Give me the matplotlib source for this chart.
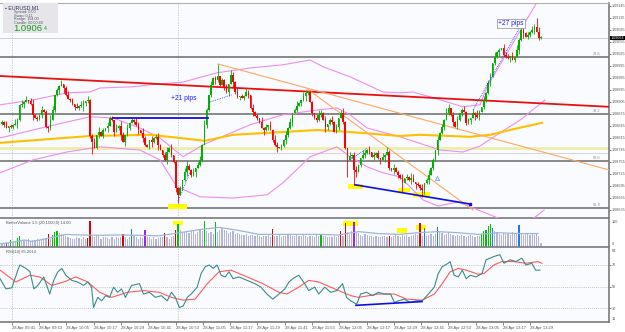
import numpy as np
import matplotlib
matplotlib.use('Agg')
import matplotlib.pyplot as plt
from matplotlib.patches import Rectangle

plt.rcParams['font.family'] = ['Liberation Sans', 'DejaVu Sans']

# ---------------- data (prices in pips above 1.08000) ----------------
close_pips = [85.4, 84.7, 83.9, 84.4, 84.2, 84.7, 84.9, 85.9, 89.7, 89.9,
              90.4, 90.9, 90.7, 89.9, 87.2, 86.4, 86.2, 87.2, 88.4, 87.9,
              84.2, 83.9, 85.9, 88.4, 92.2, 93.4, 94.4, 94.9, 93.9, 92.2,
              91.2, 90.9, 89.9, 89.2, 88.9, 89.4, 89.4, 90.2, 90.7, 90.9,
              81.9, 80.4, 78.9, 82.2, 82.9, 81.9, 83.4, 83.9, 84.4, 86.4,
              85.9, 82.9, 83.9, 84.4, 82.2, 80.4, 82.2, 83.9, 85.2, 85.9,
              85.4, 84.7, 83.4, 82.7, 81.4, 79.7, 79.2, 80.9, 80.4, 81.4,
              81.7, 79.7, 78.4, 77.2, 75.9, 77.9, 78.9, 77.2, 75.4, 68.9,
              67.2, 68.9, 70.9, 72.9, 74.4, 73.4, 72.2, 72.9, 73.9, 74.7,
              75.9, 79.7, 84.7, 88.4, 92.2, 94.7, 96.4, 95.9, 96.9, 94.7,
              95.9, 93.9, 92.9, 94.9, 97.2, 95.4, 92.9, 91.7, 91.9, 91.4,
              91.9, 92.9, 92.2, 88.9, 87.9, 86.9, 86.4, 85.4, 83.9, 83.4,
              84.2, 84.7, 83.4, 80.9, 79.7, 79.2, 78.9, 79.4, 80.9, 82.2,
              83.9, 85.4, 87.7, 88.4, 89.4, 90.2, 90.9, 91.9, 92.7, 92.9,
              90.4, 87.7, 86.4, 85.9, 87.2, 87.7, 85.9, 84.2, 84.9, 85.9,
              85.4, 82.9, 84.2, 86.4, 87.7, 85.4, 78.9, 75.9, 76.9, 77.2,
              73.4, 72.9, 74.7, 76.4, 77.2, 77.7, 78.4, 77.9, 76.7, 77.2,
              77.7, 76.4, 75.9, 76.7, 77.2, 77.9, 73.9, 73.4, 73.9, 72.9,
              72.2, 71.4, 70.2, 71.4, 71.7, 70.9, 71.4, 70.4, 69.9, 69.7,
              68.9, 68.4, 70.2, 70.9, 72.2, 73.9, 75.9, 78.4, 80.9, 82.7,
              84.2, 85.9, 87.7, 88.9, 87.2, 85.4, 84.2, 85.9, 87.7, 88.4,
              87.9, 85.2, 85.9, 86.4, 87.7, 87.2, 86.7, 87.9, 89.2, 90.9,
              92.7, 95.2, 96.7, 100.2, 101.7, 102.9, 103.4, 103.9, 102.2, 101.7,
              101.4, 101.9, 100.9, 101.7, 103.4, 105.9, 108.4, 107.7, 106.7, 107.2,
              107.9, 108.4, 109.2, 107.9, 106.4, 106.4]
first_open_pips = 85.0
wick_up = ("2130214213" "1302412031" "2143021302" "3120314203" "1230412032"
           "2031420312" "1320421031" "2310241302" "1203421302" "3142031240"
           "2130421302" "1320312041" "2031420213" "1302410321" "2103421302"
           "3120241031" "2310421302" "1203142031" "2130214302" "1302412031"
           "2143021302" "3120314203" "1230412032" "2031420312" "132042")
wick_dn = ("1203120312" "3021402130" "1320213041" "0213021432" "2401302130"
           "1302403120" "2130310241" "1402130213" "3021302140" "1203120321"
           "0213042130" "2031302104" "1302140213" "2130203142" "0312120431"
           "2013021302" "1402131203" "2130402130" "3120213041" "2031302140"
           "1302130213" "0213041302" "2130213021" "1302031402" "213021")
high_override = {98: 99.9, 236: 110.2, 243: 111.4}
low_override = {41: 77.4, 80: 65.2, 157: 71.7, 160: 69.7, 182: 67.9, 191: 66.7}

# overlays: (candle index, pips)
red_trend = ([-0.9, 276.0], [96.9, 89.2])
orange_trend1 = ([98.2, 276.0], [99.9, 73.4])
orange_trend2 = ([138.6, 214.1], [93.7, 63.4])
blue_level = ([50.5, 93.6], [86.4, 86.4])
blue_div = ([160.5, 212.7], [69.7, 64.9])
gray_levels = [101.7, 87.4, 75.7, 63.9]
pale_yellow_level = 78.9
pale_gray_level = 77.6
gold_ma_x = [-0.9, 40, 67.3, 80.9, 92.3, 105, 127.7, 143.2, 158.2, 180.9, 190, 212.7, 221.8, 233.2, 245.5]
gold_ma_y = [80.2, 81.9, 82.2, 81.4, 80.7, 82.2, 82.9, 83.4, 82.9, 81.9, 82.2, 81.7, 82.2, 83.7, 85.2]
bb_up_x = [-0.9, 14, 29.5, 40, 44.5, 59.5, 67.3, 82.3, 97.7, 112.7, 127.7, 140, 146, 158.2, 173.2, 180.9, 186.8, 194.5, 209.5, 217.3, 220.5, 232.3, 243.2, 247]
bb_up_y = [89.7, 90.9, 92.7, 92.9, 93.9, 94.2, 94.7, 95.4, 97.7, 98.9, 99.7, 100.9, 99.2, 96.7, 92.9, 92.7, 92.9, 91.7, 89.2, 89.7, 94.2, 105.2, 115.4, 118.4]
bb_mid_x = [-0.9, 14, 29.5, 40, 50.5, 62.7, 71.8, 82.3, 91.4, 112.7, 127.7, 143.2, 152.3, 158.2, 165.9, 180.9, 199.1, 209.5, 217.3, 225, 235.5, 246.8]
bb_mid_y = [81.4, 83.4, 85.4, 86.7, 86.4, 83.9, 81.4, 76.7, 79.7, 84.7, 87.2, 88.4, 88.9, 87.2, 83.9, 81.7, 78.4, 77.9, 79.4, 82.2, 85.9, 90.9]
bb_lo_x = [-0.9, 14, 29.5, 44.5, 62.7, 71.8, 79.5, 90, 105, 120.5, 127.7, 140, 152.3, 158.2, 165.9, 173.2, 180.9, 191.4, 198.2, 207.3, 216.4, 225.5, 233.2, 241.8, 246.4]
bb_lo_y = [72.7, 75.9, 77.9, 79.2, 78.4, 75.9, 69.2, 66.7, 66.4, 67.2, 70.2, 76.7, 79.2, 76.7, 74.2, 72.7, 71.7, 65.9, 64.4, 65.4, 63.4, 61.4, 59.9, 61.4, 63.4]
dotted_legs = [([80.0, 85.5], [65.6, 72.9]), ([94.5, 104.5], [90.4, 92.2]),
               ([158.2, 165.9], [75.9, 78.9]), ([214.1, 235.5], [88.4, 109.2])]
highlight_boxes = [(75.5, 84.1, 63.6, 64.9), (157.3, 164.1, 68.6, 69.9),
                   (180.0, 185.5, 67.9, 68.9), (186.8, 194.5, 66.6, 67.9)]
label21 = (82.7, 91.4, '+21 pips')
label27 = (231.4, 110.1, '+27 pips')
arrow_mark = (197.7, 71.4)
current_price = 1.09064

price_ticks_pips = [114.5, 111.5, 108.5, 105.5, 102.5, 99.5, 96.5, 93.5, 90.5, 87.5,
                    84.5, 81.5, 78.5, 75.5, 72.5, 69.5, 66.5, 63.5]

volume = [14, 12, 16, 14, 25, 18, 20, 32, 41, 22,
          26, 24, 28, 22, 26, 25, 30, 24, 28, 30,
          32, 45, 30, 42, 53, 57, 50, 45, 42, 40,
          36, 32, 30, 28, 34, 32, 30, 34, 28, 32,
          94, 40, 36, 42, 38, 30, 34, 36, 32, 30,
          34, 30, 36, 32, 34, 45, 34, 30, 36, 66,
          40, 34, 30, 36, 32, 59, 34, 36, 30, 34,
          30, 32, 34, 36, 49, 34, 30, 36, 38, 60,
          83, 62, 50, 52, 55, 50, 58, 60, 48, 54,
          62, 58, 94, 56, 50, 52, 48, 91, 52, 60,
          68, 62, 56, 50, 54, 58, 48, 50, 46, 44,
          42, 46, 40, 44, 42, 38, 44, 40, 36, 40,
          38, 42, 36, 65, 40, 38, 42, 36, 40, 38,
          42, 44, 40, 38, 42, 40, 38, 44, 40, 36,
          40, 38, 36, 42, 38, 48, 40, 38, 36, 34,
          36, 38, 34, 38, 56, 40, 85, 52, 48, 56,
          89, 54, 50, 44, 40, 46, 42, 38, 40, 36,
          38, 34, 36, 40, 38, 35, 40, 36, 38, 42,
          40, 36, 44, 38, 42, 36, 40, 44, 46, 42,
          85, 40, 68, 40, 44, 48, 40, 46, 70, 54,
          50, 44, 48, 52, 46, 42, 40, 44, 38, 42,
          40, 36, 38, 42, 40, 36, 38, 40, 48, 56,
          62, 74, 82, 68, 56, 52, 48, 44, 50, 46,
          48, 44, 52, 46, 50, 80, 48, 44, 46, 50,
          44, 48, 42, 46, 40, 14]
vol_red = [21, 39, 40, 55, 74, 79, 123, 154, 156, 176, 190]
vol_green = [4, 7, 8, 23, 24, 25, 80, 92, 97, 145, 218, 219, 220, 221, 222]
vol_blue = [59, 192, 198, 223, 235]
vol_purple = [2, 65, 160]
vol_ma_x = [-0.9, 4.5, 10, 13.6, 17.2, 22.6, 29, 35.3, 44.4, 53.4, 71.5, 80.6, 89.6, 98.7, 107.7,
            116.8, 125.9, 144, 153, 162.1, 171.1, 180.2, 189.2, 198.3, 207.4, 216.4, 225.5, 234.5, 243.6]
vol_ma_y = [11, 17, 25, 20, 25, 34, 45, 43, 42, 43, 40, 51, 62, 70, 59,
            45, 45, 45, 43, 55, 48, 45, 51, 55, 51, 45, 51, 48, 48]
vol_boxes = [(77.7, 82.3, 79, 93), (155.0, 161.8, 75, 93), (179.5, 184.0, 50, 68), (188.0, 192.7, 61, 79)]

rsi_x = [-0.9, 1.8, 4.5, 7.2, 8.1, 10.9, 12.7, 14.5, 16.3, 19, 21.7, 23.5, 25.4, 27.2, 29, 31.7, 34.4, 37.1,
         39, 40.7, 41.6, 43.5, 45.3, 47.1, 48.9, 50.7, 52.5, 54.3, 56.1, 58.9, 62.5, 64.3, 67, 69.7,
         72.4, 75.1, 77, 78.8, 80.6, 82.4, 84.2, 86, 88.7, 90.5, 92.4, 94.2, 96, 97.8, 99.6, 101.4,
         103.2, 105, 107.7, 111.4, 115, 117.7, 120.4, 123.1, 125.9, 128.6, 130.4, 132.2, 134.9, 137.6,
         139.4, 142.1, 144, 146.7, 149.4, 152.1, 154.8, 156.6, 158.5, 161.2, 163, 165.7, 168.4, 171.1,
         173.8, 176.6, 178.4, 180.2, 182.9, 185.6, 188.3, 191, 193.8, 196.5, 198.3, 200.1, 202.8, 203.7,
         205.5, 207.4, 209.2, 211, 212.8, 215.5, 218.2, 220, 223.6, 226.3, 228.2, 230.9, 233.6, 236.3,
         238.1, 240.8, 242.6, 244.5]
rsi_y = [57.3, 47.8, 48.8, 65.2, 70, 66.8, 63.7, 47.8, 51, 58.9, 43, 55.7, 63.7, 66.8, 60.5, 55.7, 54.2, 51,
         54.2, 49.4, 30.4, 39.9, 36.7, 41.5, 39.9, 49.4, 44.6, 47.8, 39.9, 51, 52.6, 43, 44.6, 39.9,
         41.5, 36.7, 44.6, 39.9, 30.4, 32, 39.9, 43, 49.4, 62.1, 68.4, 70, 66.8, 70, 60.5, 58.9,
         63.7, 57.3, 58.9, 55.7, 52.6, 49.4, 43, 38.3, 43, 47.8, 54.2, 57.3, 60.5, 52.6,
         46.2, 49.4, 43, 49.4, 44.6, 46.2, 52.6, 39.9, 36.7, 33.5, 43, 44.6, 41.5, 44.6,
         43, 43, 35.1, 36.7, 38.3, 35.1, 36.7, 36.7, 43, 49.4, 62.1, 68.4, 71.6, 73.2,
         60.5, 58.9, 65.2, 57.3, 60.5, 58.9, 62.1, 74.8, 77.9, 79.5, 71.6, 74.8, 73.2, 76.3,
         70, 71.6, 65.2, 65.2]
sig_x = [-0.9, 6.3, 12.7, 17.2, 22.6, 28.1, 33.5, 39, 44.4, 49.8, 57, 64.3, 71.5, 77, 82.4, 87.8, 93.3,
         98.7, 104.1, 111.4, 118.6, 125.9, 129.5, 134.9, 139.4, 144, 153, 158.5, 162.1, 171.1, 178.4,
         183.8, 191, 196.5, 200.1, 203.7, 207.4, 211, 216.4, 219.1, 223.6, 227.2, 232.7, 238.1, 243.6, 245.4]
sig_y = [65.2, 54.2, 60.5, 58.9, 51, 54.2, 58.9, 54.2, 44.6, 39.9, 44.6, 46.2, 44.6, 39.9, 37.3, 38.3, 52.6,
         63.7, 65.2, 58.9, 52.6, 44.6, 43, 49.4, 55.7, 54.2, 46.2, 41.5, 39.9, 43, 43,
         38.3, 37.3, 43, 52.6, 63.7, 66.8, 65.2, 61.4, 62.1, 70, 73.2, 73.2, 71.6, 73.2, 71.6]
rsi_div = ([160.9, 190.9], [32.5, 36.0])
rsi_levels = [70, 50, 30]

time_tick_idx = [4.5, 16.9, 29.3, 41.7, 54.1, 66.5, 78.9, 91.3, 103.7, 116.1,
                 128.5, 140.9, 153.3, 165.7, 178.1, 190.5, 202.9, 215.3, 227.7, 240.1]
time_labels = ['28 Apr 09:41', '28 Apr 09:53', '28 Apr 10:05', '28 Apr 10:17', '28 Apr 10:29',
               '28 Apr 10:41', '28 Apr 10:53', '28 Apr 11:05', '28 Apr 11:17', '28 Apr 11:29',
               '28 Apr 11:41', '28 Apr 11:53', '28 Apr 12:05', '28 Apr 12:17', '28 Apr 12:29',
               '28 Apr 12:41', '28 Apr 12:53', '28 Apr 13:05', '28 Apr 13:17', '28 Apr 13:29']

# ---------------- helpers ----------------
def P(v):
    return 1.08 + np.asarray(v, float) / 1e4

W, H = 625, 332
fig = plt.figure(figsize=(W / 100, H / 100), dpi=100)
fig.patch.set_facecolor('white')
BG = '#f9fbfe'
XL = (-0.91, 275.9)
AX_FS = 2.7

def add_ax(top_px, bot_px):
    a = fig.add_axes([0, 1 - bot_px / H, 609 / W, (bot_px - top_px) / H])
    a.set_facecolor(BG)
    a.set_xlim(*XL)
    for s in ('left', 'top'):
        a.spines[s].set_visible(False)
    for s in ('right', 'bottom'):
        a.spines[s].set_color('#7a7a7a')
        a.spines[s].set_linewidth(1.2)
    a.yaxis.tick_right()
    a.tick_params(axis='y', length=1.5, width=0.5, colors='#555555', labelsize=AX_FS, pad=0.6)
    a.tick_params(axis='x', length=0, labelbottom=False)
    return a

ax = add_ax(3, 218)
axv = add_ax(219, 247)
axr = add_ax(248, 322)

n = len(close_pips)
idx = np.arange(n)
c = np.array(close_pips)
o = np.array([first_open_pips] + close_pips[:-1])
wu = np.array([int(d) for d in wick_up]) * 0.3
wd = np.array([int(d) for d in wick_dn]) * 0.3
h = np.maximum(o, c) + wu
l = np.minimum(o, c) - wd
for k, v in high_override.items():
    h[k] = v
for k, v in low_override.items():
    l[k] = v

ylo, yhi = P(61.4), P(115.15)
ax.set_ylim(ylo, yhi)
ax.set_yticks(P(price_ticks_pips))
ax.set_yticklabels([f'{p:.5f}' for p in P(price_ticks_pips)])

# levels
for gl in gray_levels:
    ax.axhline(P(gl), color='#7f7f7f', lw=1.3, zorder=2)
ax.axhline(P(pale_yellow_level), color='#eeeeaa', lw=2.0, zorder=1.5)
ax.axhline(P(pale_gray_level), color='#d8d8d8', lw=0.8, zorder=1.5)
ax.axhline(current_price, color='#c8c8c8', lw=0.6, zorder=1.5)
for xv in (4.5, 79.9):
    for a in (ax, axv, axr):
        a.axvline(xv, color='#c0c0c0', lw=0.6, ls=(0, (1.5, 1.5)), zorder=1)

# highlight boxes
for x0, x1, y0, y1 in highlight_boxes:
    ax.add_patch(Rectangle((x0, P(y0)), x1 - x0, P(y1) - P(y0), color='#ffff00', zorder=2.5, lw=0))

# bands and MAs
ax.plot(bb_up_x, P(bb_up_y), color='#f08cf0', lw=0.8, zorder=3)
ax.plot(bb_mid_x, P(bb_mid_y), color='#f08cf0', lw=0.8, zorder=3)
ax.plot(bb_lo_x, P(bb_lo_y), color='#f08cf0', lw=0.8, zorder=3)
ax.plot(gold_ma_x, P(gold_ma_y), color='#ffc000', lw=1.5, zorder=3)
ax.plot(red_trend[0], P(red_trend[1]), color='#e81010', lw=1.3, zorder=3)
ax.plot(orange_trend1[0], P(orange_trend1[1]), color='#ffa860', lw=0.8, zorder=3)
ax.plot(orange_trend2[0], P(orange_trend2[1]), color='#ffa860', lw=0.8, zorder=3)

# candles
up = c >= o
colors = np.where(up, '#00b000', '#ff0000')
ax.vlines(idx, P(l), P(h), colors=colors, lw=0.6, zorder=4)
body_lo = np.minimum(o, c)
body_h = np.maximum(np.abs(c - o), 0.15)
ax.bar(idx, body_h / 1e4, bottom=P(body_lo), width=0.72, color=colors, lw=0, zorder=4.5)

# blue annotations
ax.plot(blue_level[0], P(blue_level[1]), color='#1010e0', lw=1.3, zorder=5)
ax.plot(blue_div[0], P(blue_div[1]), color='#1010e0', lw=1.2, zorder=5)
ax.plot([blue_div[0][-1]], [P(blue_div[1][-1])], marker='s', ms=1.5, color='#1010e0', zorder=5)
for xs, ys in dotted_legs:
    ax.plot(xs, P(ys), color='#3030ff', lw=0.6, ls=(0, (1, 1.2)), zorder=5)
ax.text(label21[0], P(label21[1]), label21[2], color='#1a1aff', fontsize=4.8,
        ha='center', va='center', zorder=6)
ax.text(label27[0], P(label27[1]), label27[2], color='#1a1aff', fontsize=4.8,
        ha='center', va='center', zorder=6,
        bbox=dict(boxstyle='square,pad=0.15', fc='white', ec='#8a8a8a', lw=0.5))
ax.plot([arrow_mark[0]], [P(arrow_mark[1])], marker='^', ms=3, mfc='none', mec='#6aa0ff', mew=0.6, zorder=6)

# current price tag
ax.text(1.0025, current_price, f'{current_price:.5f}', transform=ax.get_yaxis_transform(),
        fontsize=AX_FS, color='white', va='center', ha='left', zorder=10, clip_on=False,
        bbox=dict(boxstyle='square,pad=0.1', fc='black', ec='black', lw=0))

# level tags at right end of gray lines
for gl, t in zip(gray_levels, ['23.6', '38.2', '50.0', '61.8']):
    ax.text(272, P(gl) + 0.00002, t, fontsize=2.8, color='#909090', ha='right', va='bottom', zorder=6)

# info panel
fig.patches.append(Rectangle((3 / W, 1 - 33 / H), 55 / W, 30 / H, transform=fig.transFigure,
                             fc='#e6e6ea', ec='none', zorder=5))
fig.text(5 / W, 1 - 7.5 / H, '\u25aa EURUSD,M1', fontsize=3.8, color='#333355', va='center', zorder=6)
info = ['Spread: 0.00', 'Swap: 0.11', 'Range: 104.00', 'Candle: 00:00:40']
for k, t in enumerate(info):
    fig.text(14 / W, 1 - (12 + 3.6 * k) / H, t, fontsize=2.7, color='#555566', va='center', zorder=6)
fig.text(13 / W, 1 - 28.5 / H, '1.0906', fontsize=6.8, color='#1a9a1a', va='center', zorder=6)
fig.text(44 / W, 1 - 29 / H, '4', fontsize=3.8, color='#1a9a1a', va='center', zorder=6)

# ---------------- volume panel ----------------
axv.set_ylim(0, 100)
axv.set_yticks([])
vcol = ['#b4b4d4'] * n
for k in vol_red:
    vcol[k] = '#e00000'
for k in vol_green:
    vcol[k] = '#00c000'
for k in vol_blue:
    vcol[k] = '#1e78ff'
for k in vol_purple:
    vcol[k] = '#a020f0'
for x0, x1, y0, y1 in vol_boxes:
    axv.add_patch(Rectangle((x0, y0), x1 - x0, y1 - y0, color='#ffff00', zorder=1.5, lw=0))
axv.bar(idx, volume, width=0.55, color=vcol, lw=0, zorder=2)
axv.plot(vol_ma_x, vol_ma_y, color='#9fb6d6', lw=0.9, zorder=3)
axv.text(1.004, 3, '0', fontsize=AX_FS, color='#555555', transform=axv.get_yaxis_transform(),
         ha='left', va='bottom', clip_on=False)
axv.text(1.004, 97, '100', fontsize=AX_FS, color='#555555', transform=axv.get_yaxis_transform(),
         ha='left', va='top', clip_on=False)
axv.text(2, 92, 'BetterVolume 1.5 (20,1500,0) 14.00', fontsize=3.0, color='#555555', va='top', zorder=6)

# ---------------- RSI panel ----------------
axr.set_ylim(17, 85.8)
axr.set_yticks(rsi_levels)
axr.set_yticklabels([str(v) for v in rsi_levels])
for lv in rsi_levels:
    axr.axhline(lv, color='#b0b0b0', lw=0.6, ls=(0, (1, 1.5)), zorder=1)
axr.plot(sig_x, sig_y, color='#ff5a5a', lw=0.8, zorder=3)
axr.plot(rsi_x, rsi_y, color='#3a8c8c', lw=0.8, zorder=4)
axr.plot(rsi_div[0], rsi_div[1], color='#1010e0', lw=1.2, zorder=5)
axr.text(2, 84, 'RSI(14) 65.2014', fontsize=3.0, color='#555555', va='top', zorder=6)
axr.text(1.004, 84.5, '84', fontsize=AX_FS, color='#555555', transform=axr.get_yaxis_transform(),
         ha='left', va='top', clip_on=False)
axr.text(1.004, 18, '13', fontsize=AX_FS, color='#555555', transform=axr.get_yaxis_transform(),
         ha='left', va='bottom', clip_on=False)
axr.set_xticks(time_tick_idx)
axr.set_xticklabels(time_labels)
axr.tick_params(axis='x', length=2, width=0.5, colors='#555555', labelsize=3.0, pad=1,
                labelbottom=True, direction='out')
for lab in axr.get_xticklabels():
    lab.set_horizontalalignment('left')

# top border line
fig.add_artist(plt.Line2D([0, 609 / W], [1 - 2.5 / H, 1 - 2.5 / H], transform=fig.transFigure,
                          color='#b0b0b0', lw=0.8))

fig.savefig('out.png', dpi=100, facecolor='white')
